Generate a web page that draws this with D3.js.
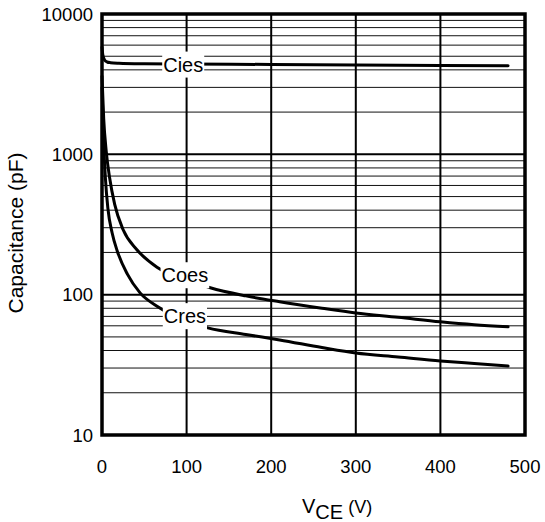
<!DOCTYPE html>
<html>
<head>
<meta charset="utf-8">
<script src="https://cdn.jsdelivr.net/npm/d3@7"></script>
<style>
  body { margin: 0; background: #fff; }
  text { font-family: "Liberation Sans", Arial, Helvetica, sans-serif; fill: #000; }
</style>
</head>
<body>
<div id="chart"></div>
<script>
// data
var ciesV = [0, 1, 3, 6, 10, 20, 50, 100, 200, 300, 400, 480];
var ciesC = [5800, 5100, 4700, 4550, 4500, 4460, 4420, 4400, 4370, 4330, 4300, 4280];

var coesV = [0, 2, 5, 9, 15, 25, 41, 65, 100, 128, 170, 210, 260, 300, 350, 400, 440, 480];
var coesC = [3600, 1800, 1050, 680, 440, 290, 210, 157, 128, 112, 98, 89, 80, 74, 69, 64, 61, 59];

var cresV = [0, 2, 4, 7, 12, 18, 30, 45, 66, 90, 125, 170, 210, 260, 300, 350, 400, 440, 480];
var cresC = [3000, 1200, 680, 410, 275, 205, 140, 103, 82, 68, 58, 52, 47.6, 42, 38.4, 36, 33.7, 32.3, 31];

var labelNames = ["Cies", "Coes", "Cres"];
var labelV = [96, 98, 98];
var labelC = [4375, 138, 70.5];

var xTicks = [0, 100, 200, 300, 400, 500];
var yTicks = [10, 100, 1000, 10000];

// svg size and plot box
var svgWidth = 545;
var svgHeight = 522;
var margin = { top: 14, right: 20, bottom: 87, left: 102 };
var width = svgWidth - margin.left - margin.right;
var height = svgHeight - margin.top - margin.bottom;

var svg = d3.select("#chart")
  .append("svg")
  .attr("width", svgWidth)
  .attr("height", svgHeight);

var chartGroup = svg.append("g")
  .attr("transform", `translate(${margin.left}, ${margin.top})`);

var xScale = d3.scaleLinear().domain([0, 500]).range([0, width]);
var yScale = d3.scaleLog().domain([10, 10000]).range([height, 0]);

// minor horizontal grid
var minor = [];
[10, 100, 1000].forEach(function(d) {
  for (var k = 2; k <= 9; k++) minor.push(d * k);
});
chartGroup.selectAll(".minor")
  .data(minor)
  .enter()
  .append("line")
  .attr("x1", 0).attr("x2", width)
  .attr("y1", d => yScale(d)).attr("y2", d => yScale(d))
  .attr("stroke", "#111")
  .attr("stroke-width", 1);

// major grid
chartGroup.selectAll(".major")
  .data([100, 1000])
  .enter()
  .append("line")
  .attr("x1", 0).attr("x2", width)
  .attr("y1", d => yScale(d)).attr("y2", d => yScale(d))
  .attr("stroke", "#000")
  .attr("stroke-width", 2);

chartGroup.selectAll(".vgrid")
  .data([100, 200, 300, 400])
  .enter()
  .append("line")
  .attr("x1", d => xScale(d)).attr("x2", d => xScale(d))
  .attr("y1", 0).attr("y2", height)
  .attr("stroke", "#000")
  .attr("stroke-width", 2);

// curves
var line = d3.line()
  .x(d => xScale(d[0]))
  .y(d => yScale(d[1]))
  .curve(d3.curveMonotoneX);

[[ciesV, ciesC], [coesV, coesC], [cresV, cresC]].forEach(function(s) {
  chartGroup.append("path")
    .datum(d3.zip(s[0], s[1]))
    .attr("d", line)
    .attr("fill", "none")
    .attr("stroke", "#000")
    .attr("stroke-width", 3)
    .attr("stroke-linecap", "round");
});

// curve labels on white boxes
labelNames.forEach(function(name, i) {
  var g = chartGroup.append("g");
  var t = g.append("text")
    .attr("x", xScale(labelV[i]))
    .attr("y", yScale(labelC[i]))
    .attr("dy", "0.36em")
    .attr("text-anchor", "middle")
    .attr("font-size", 20)
    .text(name);
  var bb = t.node().getBBox();
  g.insert("rect", "text")
    .attr("x", bb.x - 1)
    .attr("y", bb.y - 2)
    .attr("width", bb.width + 2)
    .attr("height", bb.height + 4)
    .attr("fill", "#fff");
});

// frame
chartGroup.append("rect")
  .attr("x", 0).attr("y", 0)
  .attr("width", width).attr("height", height)
  .attr("fill", "none")
  .attr("stroke", "#000")
  .attr("stroke-width", 3.5);

// tick labels
chartGroup.selectAll(".ytick")
  .data(yTicks)
  .enter()
  .append("text")
  .attr("x", -9)
  .attr("y", d => yScale(d))
  .attr("dy", "0.36em")
  .attr("text-anchor", "end")
  .attr("font-size", 18.5)
  .text(d => d);

chartGroup.selectAll(".xtick")
  .data(xTicks)
  .enter()
  .append("text")
  .attr("x", d => xScale(d))
  .attr("y", height + 38)
  .attr("text-anchor", "middle")
  .attr("font-size", 18.5)
  .text(d => d);

// axis titles
chartGroup.append("text")
  .attr("transform", "rotate(-90)")
  .attr("x", -219)
  .attr("y", -79)
  .attr("text-anchor", "middle")
  .attr("font-size", 21)
  .text("Capacitance (pF)");

var xt = chartGroup.append("text")
  .attr("x", 200)
  .attr("y", height + 78)
  .attr("font-size", 20);
xt.append("tspan").text("V");
xt.append("tspan").attr("dy", 6).text("CE");
xt.append("tspan").attr("dy", -6).attr("font-size", 18).text(" (V)");
</script>
</body>
</html>
